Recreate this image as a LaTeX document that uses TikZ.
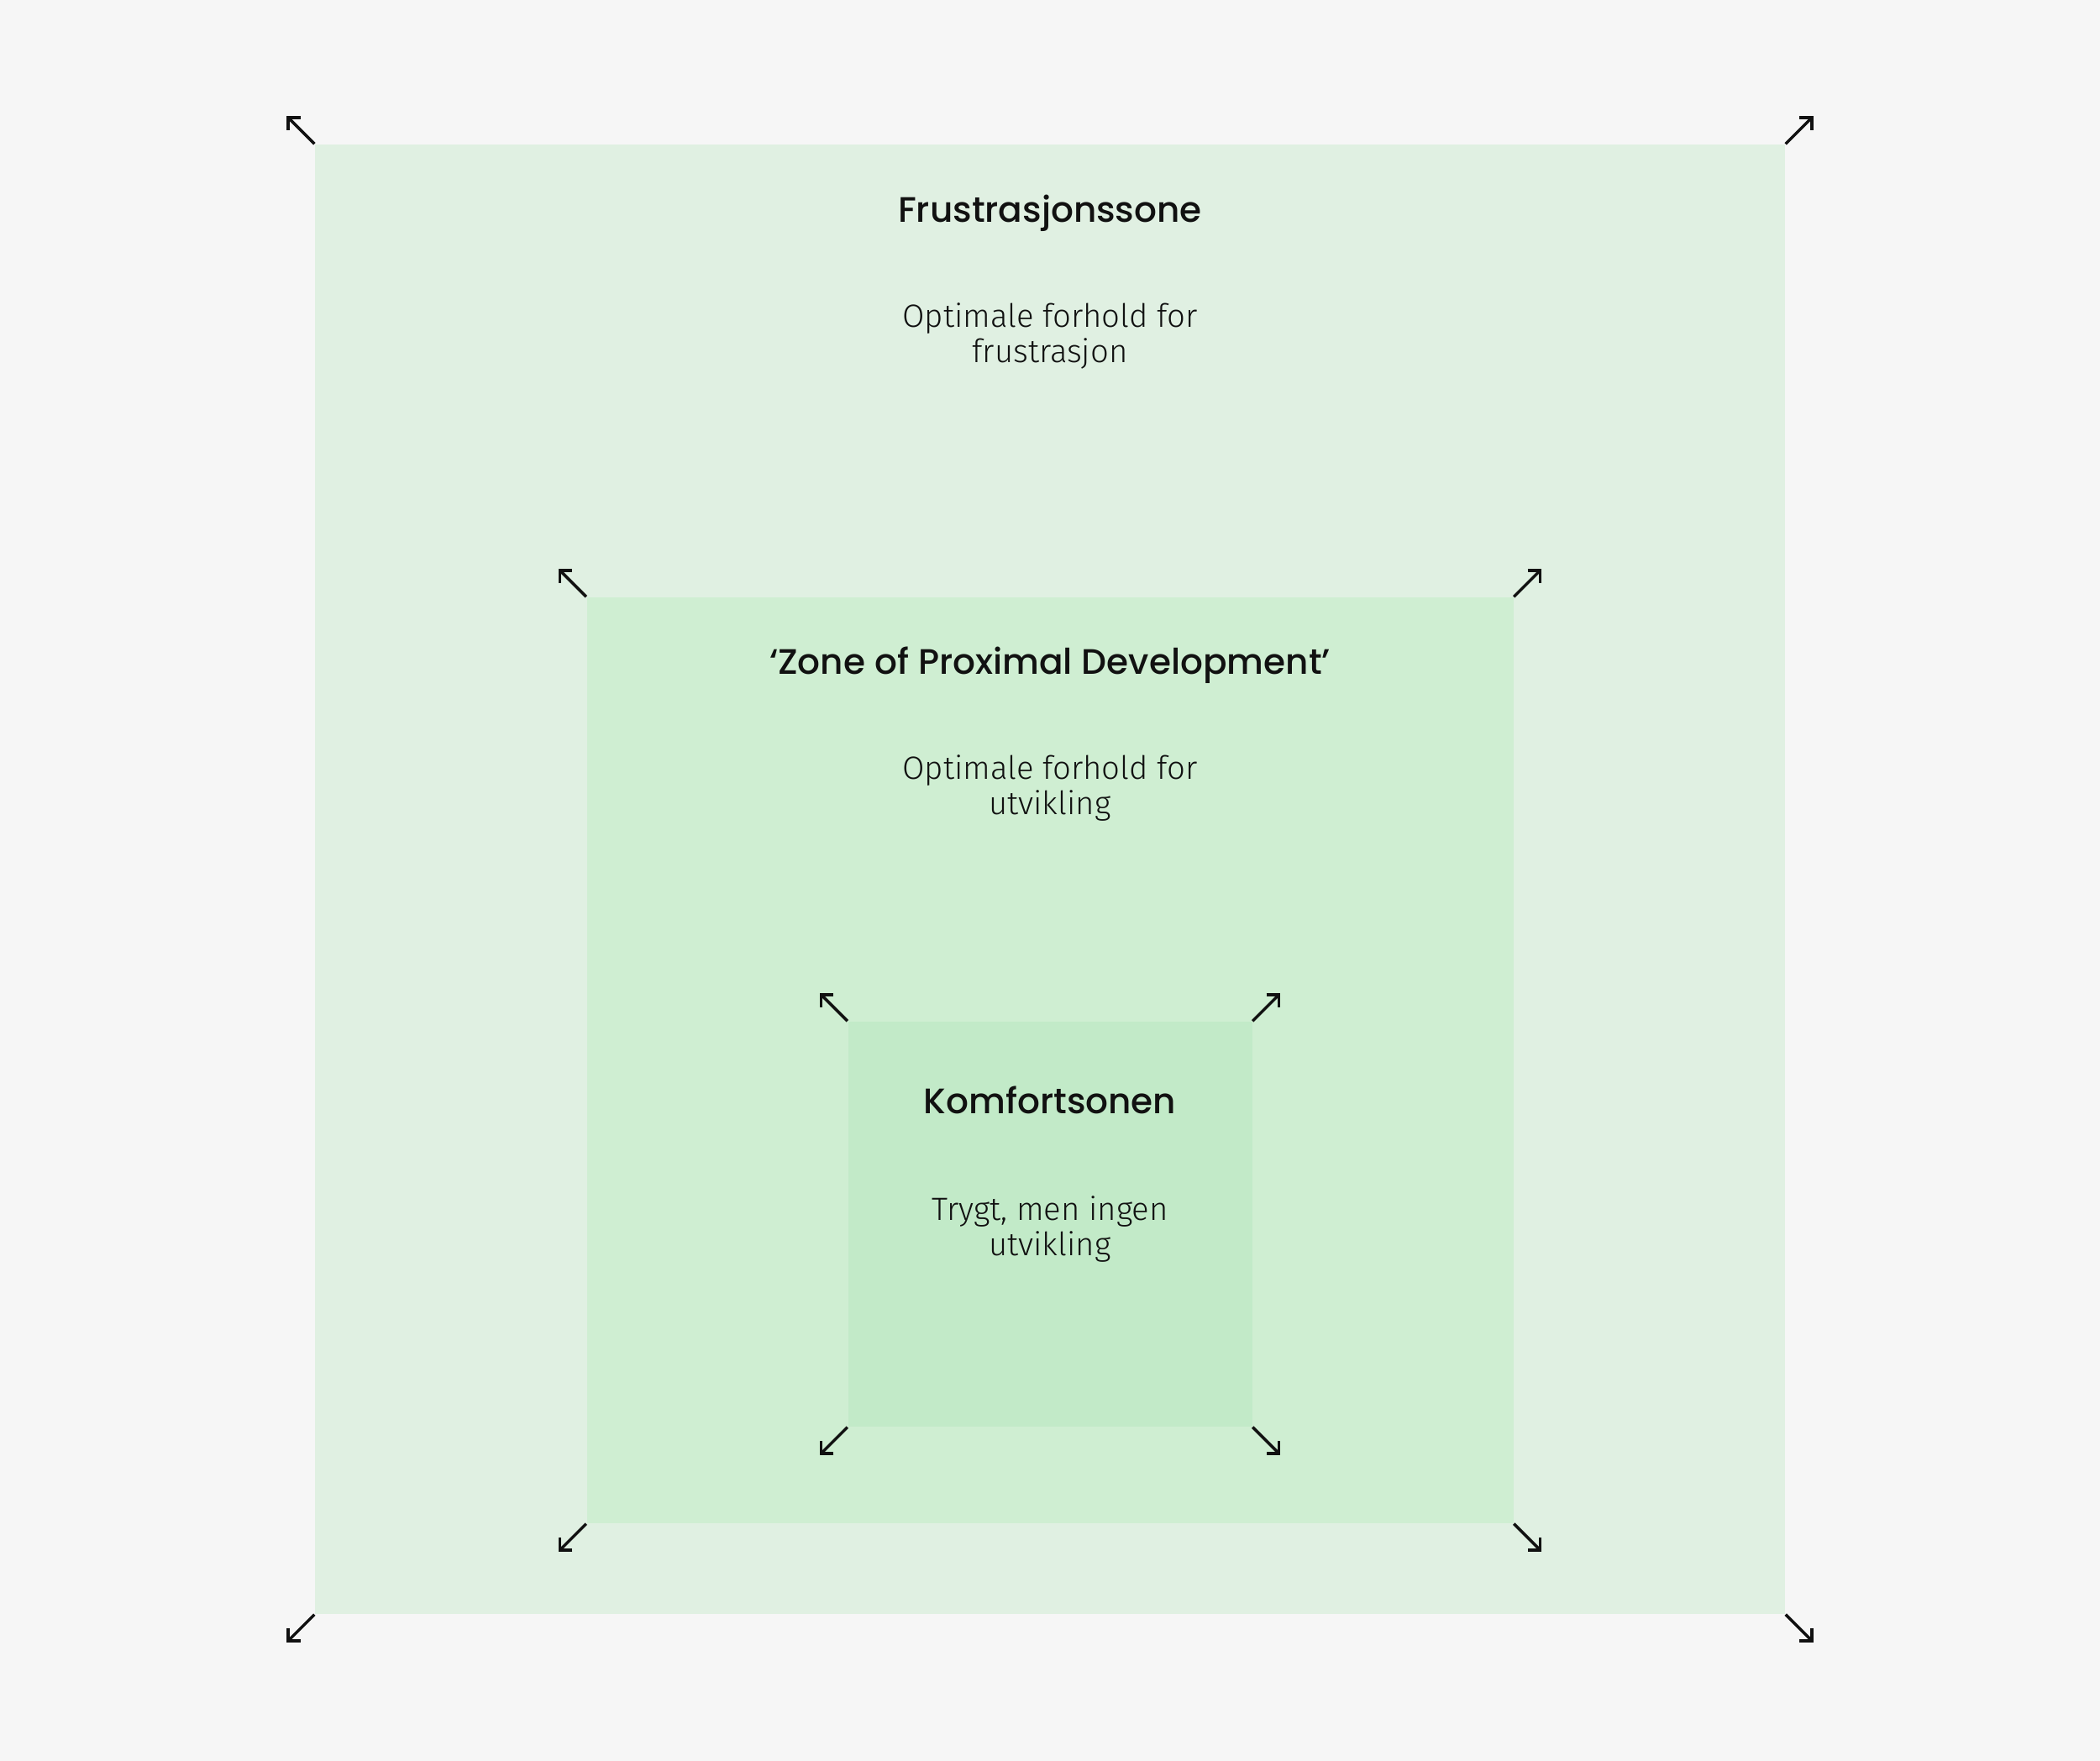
\documentclass[tikz,border=0pt]{standalone}
\usepackage{fontspec}
\usetikzlibrary{positioning,arrows.meta}
\newfontfamily\headfont{Poppins}[UprightFont=* Medium]
\newfontfamily\bodyfont{Fira Sans}[UprightFont=* Light]
\definecolor{pagebg}{HTML}{F6F6F6}
\definecolor{frusfill}{HTML}{E0F0E2}
\definecolor{zpdfill}{HTML}{CFEED2}
\definecolor{komffill}{HTML}{C2EAC8}
\definecolor{ink}{HTML}{111111}

\begin{document}
\begin{tikzpicture}[
  zone/.style={
    rectangle,
    draw=none,
    inner sep=0pt
  },
  title/.style={font=\headfont\fontsize{12}{14}\selectfont,text=ink,anchor=base},
  desc/.style={font=\bodyfont\fontsize{10.9}{11.8}\selectfont,text=ink,align=center,anchor=base},
  outarrow/.style={draw=ink,line width=1pt,-{Straight Barb[length=3pt,width=6pt]}}
]
  \fill[pagebg] (0,0) rectangle (25,20.96);

  \node[zone,fill=frusfill,minimum width=17.5cm,minimum height=17.49cm] (frus) at (12.5,10.495) {};
  \node[zone,fill=zpdfill,minimum width=11.03cm,minimum height=11.02cm] (zpd) at (12.5,8.34) {};
  \node[zone,fill=komffill,minimum width=4.81cm,minimum height=4.82cm] (komf) at (12.5,6.39) {};

  \node[title] (frus-title) at ([yshift=-0.93cm]frus.north) {Frustrasjonssone};
  \node[desc] (frus-desc) at ([yshift=-2.60cm]frus.north) {Optimale forhold for\\frustrasjon};

  \node[title] (zpd-title) at ([yshift=-0.92cm]zpd.north) {‘Zone of Proximal Development’};
  \node[desc] (zpd-desc) at ([yshift=-2.59cm]zpd.north) {Optimale forhold for\\utvikling};

  \node[title] (komf-title) at ([yshift=-1.10cm]komf.north) {Komfortsonen};
  \node[desc] (komf-desc) at ([yshift=-2.79cm]komf.north) {Trygt, men ingen\\utvikling};

  % arrows pointing out of every corner
  \foreach \z in {frus,zpd,komf} {
    \foreach \a/\c/\dx/\dy in {nw/north west/-1/1,ne/north east/1/1,sw/south west/-1/-1,se/south east/1/-1} {
      \coordinate (\z-\a) at ([xshift=\dx*0.33cm,yshift=\dy*0.33cm]\z.\c);
      \draw[outarrow] (\z.\c) -- (\z-\a);
    }
  }
\end{tikzpicture}
\end{document}
